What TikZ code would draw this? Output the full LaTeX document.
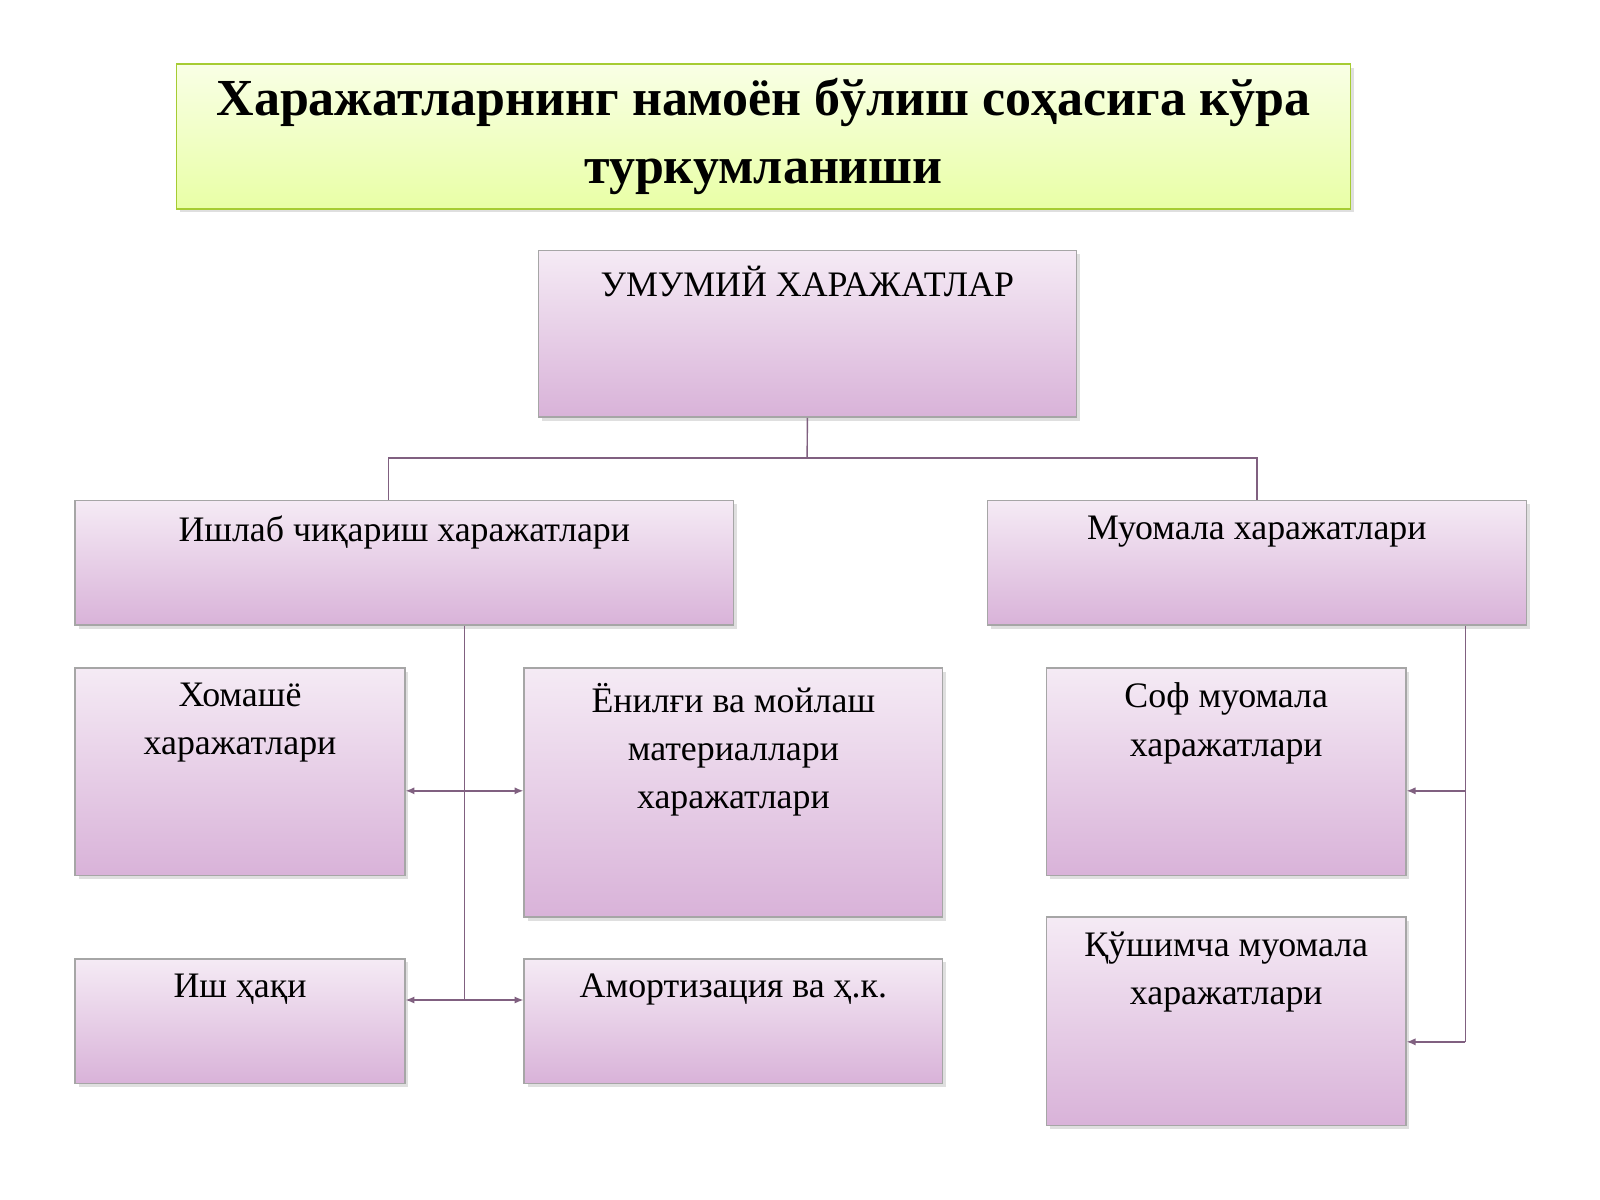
\documentclass[tikz,border=0pt]{standalone}
\usepackage{fontspec}
\setmainfont{Liberation Serif}
\usetikzlibrary{shadows,arrows.meta}
\tikzset{
  box/.style={draw=gray!70, line width=0.8pt, top color=violet!8, bottom color=violet!30,
    drop shadow={opacity=0.25, shadow xshift=2pt, shadow yshift=-2pt}, anchor=north west, inner sep=0pt},
  txt/.style={anchor=north, align=center, font=\fontsize{20}{27}\selectfont, inner sep=0pt},
  line/.style={draw=gray!75!violet, line width=0.8pt},
  arr/.style={line, {Latex[length=5pt,width=4pt]}-{Latex[length=5pt,width=4pt]}},
  arrend/.style={line, -{Latex[length=5pt,width=4pt]}}
}
\begin{document}
\begin{tikzpicture}[x=0.02cm, y=-0.02cm]
  \useasboundingbox[fill=white] (0,0) rectangle (1568,1176);
  % Title
  \node[box, draw=lime!60!gray, top color=lime!10, bottom color=lime!35, minimum width=1151*0.02cm, minimum height=142*0.02cm] (title) at (172,62) {};
  \node[align=center, font=\fontsize{29}{38}\selectfont\bfseries] at (title.center) {Харажатларнинг намоён бўлиш соҳасига кўра\\туркумланиши};
  % Boxes
  \node[box, minimum width=527*0.02cm, minimum height=163*0.02cm] (all) at (527,245) {};
  \node[box, minimum width=645*0.02cm, minimum height=122*0.02cm] (prod) at (73,490) {};
  \node[box, minimum width=528*0.02cm, minimum height=122*0.02cm] (circ) at (967,490) {};
  \node[box, minimum width=323*0.02cm, minimum height=203*0.02cm] (raw) at (73,654) {};
  \node[box, minimum width=410*0.02cm, minimum height=244*0.02cm] (fuel) at (513,654) {};
  \node[box, minimum width=323*0.02cm, minimum height=122*0.02cm] (wage) at (73,939) {};
  \node[box, minimum width=410*0.02cm, minimum height=122*0.02cm] (amort) at (513,939) {};
  \node[box, minimum width=352*0.02cm, minimum height=203*0.02cm] (pure) at (1025,654) {};
  \node[box, minimum width=352*0.02cm, minimum height=204*0.02cm] (extra) at (1025,898) {};
  % Texts
  \node[txt] at ([yshift=-0.3cm]all.north) {УМУМИЙ ХАРАЖАТЛАР};
  \node[txt] at ([yshift=-0.3cm]prod.north) {Ишлаб чиқариш харажатлари};
  \node[txt] at ([yshift=-0.3cm]circ.north) {Муомала харажатлари};
  \node[txt] at ([yshift=-0.3cm]raw.north) {Хомашё\\харажатлари};
  \node[txt] at ([yshift=-0.3cm]fuel.north) {Ёнилғи ва мойлаш\\материаллари\\харажатлари};
  \node[txt] at ([yshift=-0.3cm]wage.north) {Иш ҳақи};
  \node[txt] at ([yshift=-0.3cm]amort.north) {Амортизация ва ҳ.к.};
  \node[txt] at ([yshift=-0.3cm]pure.north) {Соф муомала\\харажатлари};
  \node[txt] at ([yshift=-0.3cm]extra.north) {Қўшимча муомала\\харажатлари};
  % Connectors
  \coordinate (hub) at (791,449);
  \coordinate (pl) at (455,775);
  \coordinate (pw) at (455,980);
  \coordinate (cr) at (1436,775);
  \coordinate (ce) at (1436,1021);
  \draw[line] (all.south) -- (hub);
  \draw[line] (hub) -| (prod.north -| 381,0);
  \draw[line] (hub) -| (circ.north);
  \draw[line] (prod.south -| pl) -- (pw);
  \draw[arr] (raw.east |- pl) -- (fuel.west |- pl);
  \draw[arr] (wage.east |- pw) -- (amort.west |- pw);
  \draw[line] (circ.south -| cr) -- (ce);
  \draw[arrend] (cr) -- (pure.east |- cr);
  \draw[arrend] (ce) -- (extra.east |- ce);
\end{tikzpicture}
\end{document}
